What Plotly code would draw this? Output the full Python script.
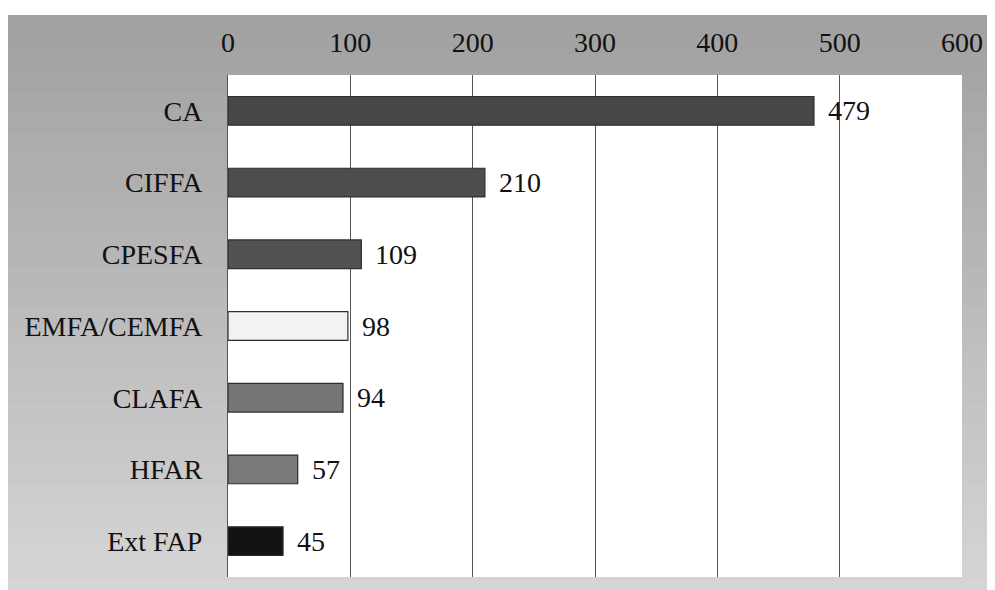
import plotly.graph_objects as go

categories = ["CA", "CIFFA", "CPESFA", "EMFA/CEMFA", "CLAFA", "HFAR", "Ext FAP"]
values = [479, 210, 109, 98, 94, 57, 45]
bar_colors = ["#474747", "#4d4d4d", "#525252", "#f2f2f2", "#767676", "#7a7a7a", "#121212"]
tick_vals = [0, 100, 200, 300, 400, 500, 600]

FONT = "Liberation Serif"

fig = go.Figure()
fig.add_trace(go.Bar(
    y=categories, x=values, orientation="h",
    marker=dict(color=bar_colors, line=dict(color="#2e2e2e", width=1.2)),
    width=0.4,
))

for c, v in zip(categories, values):
    fig.add_annotation(x=v, y=c, text=str(v), showarrow=False,
                       xanchor="left", xshift=12,
                       font=dict(family=FONT, size=28, color="#111111"))

# grey panel with a vertical gradient (dark at top, light at bottom)
y_bot, y_top = -0.045, 1.1195
x_left, x_right = -0.301, 1.06
n = 30
c_top, c_bot = 160, 214
for i in range(n):
    y0 = y_bot + (y_top - y_bot) * i / n
    y1 = y_bot + (y_top - y_bot) * (i + 1) / n + 0.002
    g = round(c_bot + (c_top - c_bot) * (i + 0.5) / n)
    fig.add_shape(type="rect", xref="paper", yref="paper",
                  x0=x_left, x1=x_right, y0=y0, y1=min(y1, y_top),
                  fillcolor=f"rgb({g},{g},{g})", line=dict(width=0), layer="below")
# white plot area on top of the panel
fig.add_shape(type="rect", xref="paper", yref="paper",
              x0=0, x1=1, y0=0, y1=1,
              fillcolor="white", line=dict(width=0), layer="below")

fig.update_layout(
    width=995, height=590,
    margin=dict(l=220, r=41, t=67, b=21),
    paper_bgcolor="white", plot_bgcolor="white",
    showlegend=False,
    bargap=0.6,
    font=dict(family=FONT, size=28, color="#111111"),
    xaxis=dict(side="top", range=[0, 600], tickvals=tick_vals,
               showgrid=True, gridcolor="#555555", gridwidth=1,
               zeroline=False, showline=False, ticks="",
               tickfont=dict(size=28), ticklabelstandoff=16),
    yaxis=dict(categoryorder="array", categoryarray=categories[::-1],
               showline=True, linecolor="#555555", linewidth=1, ticks="",
               tickfont=dict(size=28), ticklabelstandoff=19),
)

fig.write_html("out.html")
